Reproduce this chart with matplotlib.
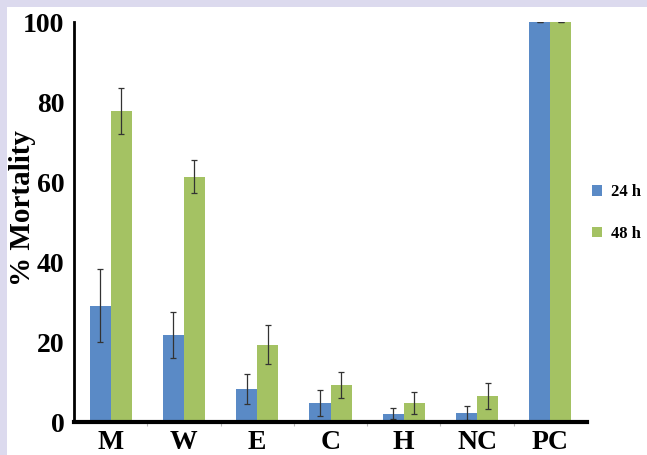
import numpy as np
import matplotlib
matplotlib.use('Agg')
import matplotlib.pyplot as plt
from matplotlib.patches import Patch, Rectangle

# ---- data ----
groups = ['M', 'W', 'E', 'C', 'H', 'NC', 'PC']
mort_24h = [29.1, 21.8, 8.3, 4.8, 2.1, 2.3, 100.0]
err_24h = [9.2, 5.7, 3.7, 3.2, 1.4, 1.7, 0.0]
mort_48h = [77.7, 61.3, 19.3, 9.3, 4.8, 6.5, 100.0]
err_48h = [5.8, 4.1, 4.9, 3.3, 2.8, 3.2, 0.0]
yticks = [0, 20, 40, 60, 80, 100]

blue = '#5a8ac6'
green = '#a4c263'

plt.rcParams['font.family'] = ['Liberation Serif', 'DejaVu Serif']
plt.rcParams['font.weight'] = 'bold'

fig = plt.figure(figsize=(6.47, 4.55), dpi=100, facecolor='white')
# lavender frame strips on top and left
fig.patches.append(Rectangle((0, 1 - 7 / 455), 1, 7 / 455, transform=fig.transFigure,
                             facecolor='#dcdaee', edgecolor='none', zorder=0))
fig.patches.append(Rectangle((0, 0), 7 / 647, 1, transform=fig.transFigure,
                             facecolor='#dcdaee', edgecolor='none', zorder=0))

ax = fig.add_axes([74 / 647, 1 - 422 / 455, (587 - 74) / 647, 400 / 455])
x = np.arange(len(groups))
w = 0.287
ekw = dict(ecolor='#333333', elinewidth=0.9, capsize=2, capthick=0.9)
ax.bar(x - w / 2, mort_24h, w, color=blue, yerr=err_24h, error_kw=ekw, label='24 h', zorder=2)
ax.bar(x + w / 2, mort_48h, w, color=green, yerr=err_48h, error_kw=ekw, label='48 h', zorder=2)

ax.set_xlim(-0.5, len(groups) - 0.5)
ax.set_ylim(0, 100)
ax.set_yticks(yticks)
ax.set_yticklabels([str(v) for v in yticks], fontsize=20, fontweight='bold')
ax.set_xticks(x)
ax.set_xticklabels(groups, fontsize=20, fontweight='bold')
ax.set_xticks(np.arange(0.5, len(groups) - 0.5, 1), minor=True)
ax.tick_params(axis='y', which='major', length=0, pad=7)
ax.tick_params(axis='x', which='major', length=0, pad=6)
ax.tick_params(axis='x', which='minor', length=3, color='#bbbbbb', width=0.8)
ax.set_ylabel('% Mortality', fontsize=21, fontweight='bold')
ax.yaxis.set_label_coords(-0.075, 0.535)

for s in ['top', 'right']:
    ax.spines[s].set_visible(False)
ax.spines['left'].set_linewidth(2)
ax.spines['bottom'].set_linewidth(3)
ax.spines['bottom'].set_zorder(3)

handles = [Patch(facecolor=blue, label='24 h'), Patch(facecolor=green, label='48 h')]
fig.legend(handles=handles, loc='center left', bbox_to_anchor=(592 / 647, 1 - 213 / 455),
           frameon=False, labelspacing=1.55, handlelength=0.6, handleheight=0.6,
           handletextpad=0.55, borderaxespad=0, borderpad=0,
           prop={'weight': 'bold', 'size': 12})

fig.savefig('out.png', dpi=100, facecolor=fig.get_facecolor())
